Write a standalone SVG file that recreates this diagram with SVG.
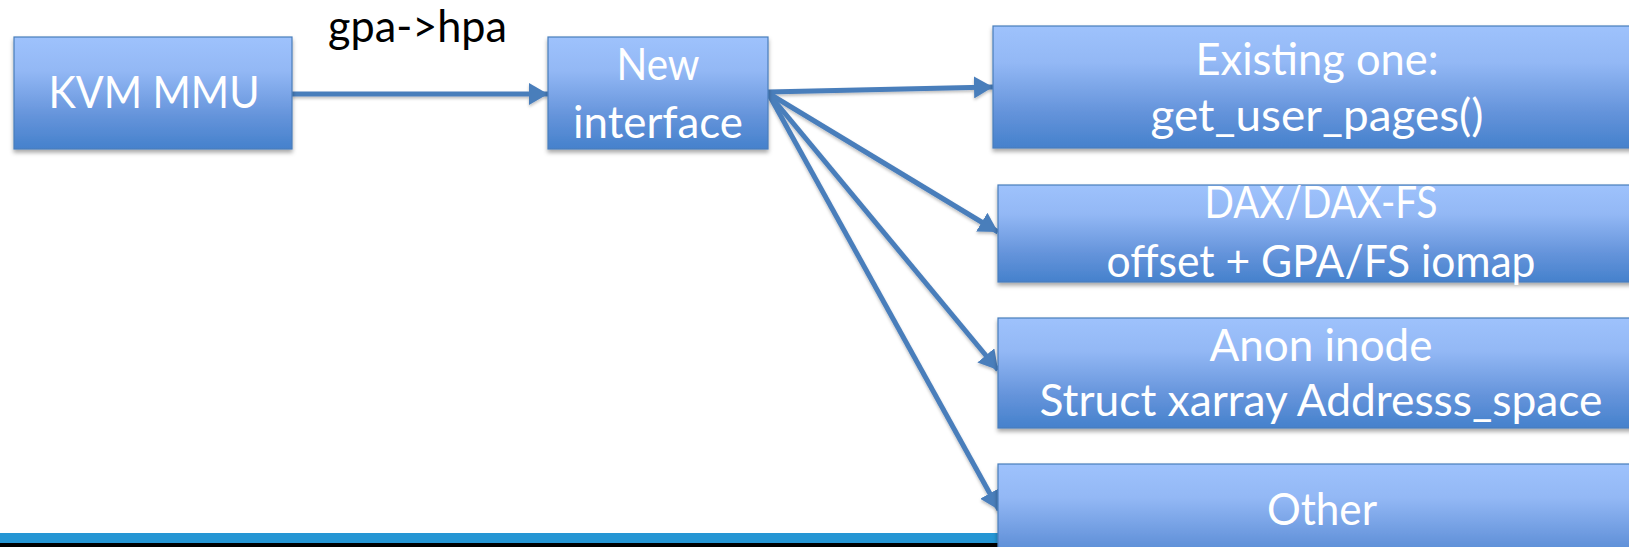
<svg xmlns="http://www.w3.org/2000/svg" width="1629" height="547" viewBox="0 0 1629 547">
  <defs>
    <linearGradient id="boxFill" x1="0" y1="0" x2="0" y2="1">
      <stop offset="0" stop-color="#9ec2fc"/>
      <stop offset="0.3" stop-color="#93b8f5"/>
      <stop offset="0.7" stop-color="#6594db"/>
      <stop offset="1" stop-color="#4581cc"/>
    </linearGradient>
    <filter id="boxShadow" x="-5%" y="-10%" width="115%" height="130%">
      <feDropShadow dx="0" dy="3" stdDeviation="2" flood-color="#000" flood-opacity="0.35"/>
    </filter>
    <filter id="lineShadow" x="-5%" y="-10%" width="115%" height="130%">
      <feDropShadow dx="0" dy="2" stdDeviation="1.5" flood-color="#000" flood-opacity="0.25"/>
    </filter>
    <marker id="arrow" markerUnits="userSpaceOnUse" markerWidth="20" markerHeight="22" refX="19" refY="11" orient="auto">
      <path d="M0,0 L19,11 L0,22 z" fill="#4a7ebb"/>
    </marker>
  </defs>
  <style>
    .box { fill: url(#boxFill); stroke: #4a7ebb; stroke-width: 1.2; filter: url(#boxShadow); }
    .lbl { font-family: Lato, "Open Sans", sans-serif; font-size: 44px; fill: #ffffff; text-anchor: middle; }
    .note { font-family: Lato, "Open Sans", sans-serif; font-size: 44px; fill: #000000; }
    .conn { stroke: #4a7ebb; stroke-width: 5; fill: none; marker-end: url(#arrow); }
  </style>

  <rect x="0" y="0" width="1629" height="547" fill="#ffffff"/>

  <!-- slide footer band -->
  <rect x="0" y="533" width="1629" height="10" fill="#2596d4"/>
  <rect x="0" y="543" width="1629" height="4" fill="#000000"/>

  <!-- label over the first connector -->
  <text class="note" x="328" y="42" textLength="179" lengthAdjust="spacingAndGlyphs">gpa-&gt;hpa</text>

  <g id="connectors" filter="url(#lineShadow)">
    <line class="conn" x1="292" y1="94" x2="548" y2="94"/>
    <line class="conn" x1="768" y1="92" x2="993" y2="87"/>
    <line class="conn" x1="768" y1="93" x2="998" y2="232"/>
    <line class="conn" x1="768" y1="93" x2="998" y2="370"/>
    <line class="conn" x1="768" y1="93" x2="999" y2="510"/>
  </g>

  <g id="kvm-mmu">
    <rect class="box" x="14" y="37" width="278" height="112"/>
    <text class="lbl" x="154" y="108" textLength="211" lengthAdjust="spacingAndGlyphs">KVM MMU</text>
  </g>

  <g id="new-interface">
    <rect class="box" x="548" y="37" width="220" height="112"/>
    <text class="lbl" x="658" y="80" textLength="83" lengthAdjust="spacingAndGlyphs">New</text>
    <text class="lbl" x="658" y="138" textLength="170" lengthAdjust="spacingAndGlyphs">interface</text>
  </g>

  <g id="existing-one">
    <rect class="box" x="993" y="26" width="648" height="122"/>
    <text class="lbl" x="1317" y="75" textLength="243" lengthAdjust="spacingAndGlyphs">Existing one:</text>
    <text class="lbl" x="1317" y="131" textLength="333" lengthAdjust="spacingAndGlyphs">get_user_pages()</text>
  </g>

  <g id="dax">
    <rect class="box" x="998" y="185" width="646" height="97"/>
    <text class="lbl" x="1321" y="218" textLength="233" lengthAdjust="spacingAndGlyphs">DAX/DAX-FS</text>
    <text class="lbl" x="1321" y="277" textLength="429" lengthAdjust="spacingAndGlyphs">offset + GPA/FS iomap</text>
  </g>

  <g id="anon-inode">
    <rect class="box" x="998" y="318" width="646" height="110"/>
    <text class="lbl" x="1321" y="361" textLength="223" lengthAdjust="spacingAndGlyphs">Anon inode</text>
    <text class="lbl" x="1321" y="416" textLength="563" lengthAdjust="spacingAndGlyphs">Struct xarray Addresss_space</text>
  </g>

  <g id="other">
    <rect class="box" x="998" y="464" width="646" height="112"/>
    <text class="lbl" x="1322" y="525" textLength="110" lengthAdjust="spacingAndGlyphs">Other</text>
  </g>
</svg>
